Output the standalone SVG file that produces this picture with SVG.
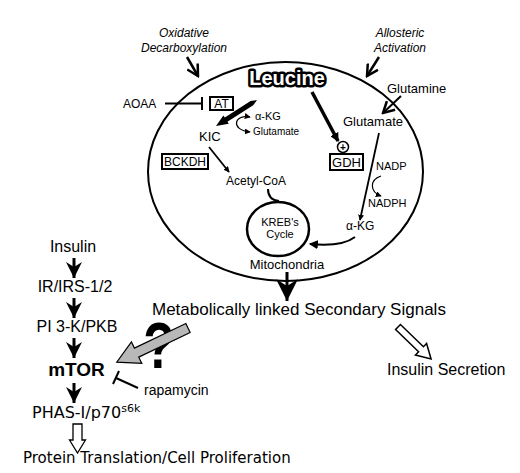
<svg xmlns="http://www.w3.org/2000/svg" width="520" height="473" viewBox="0 0 520 473">
<style>
text{font-family:"Liberation Sans",Arial,sans-serif;fill:#000}
.it{font-style:italic;font-size:12px}
.c{text-anchor:middle}
.dv{font-family:"DejaVu Sans",Verdana,sans-serif}
.ln{stroke:#000;fill:none}
.box{fill:#fff;stroke:#000;stroke-width:2}
</style>
<defs>
<marker id="vopen" viewBox="0 0 14 14" refX="12" refY="7" markerWidth="14" markerHeight="14" markerUnits="userSpaceOnUse" orient="auto"><path d="M1,1 L12,7 L1,13" fill="none" stroke="#000" stroke-width="2.5"/></marker>
<marker id="notch" viewBox="0 0 16 16" refX="16" refY="8" markerWidth="16" markerHeight="16" markerUnits="userSpaceOnUse" orient="auto"><path d="M0,0 L16,8 L0,16 L5,8 Z" fill="#000"/></marker>
<marker id="notchL" viewBox="0 0 16 16" refX="16" refY="8" markerWidth="22" markerHeight="22" markerUnits="userSpaceOnUse" orient="auto"><path d="M0,0 L16,8 L0,16 L5,8 Z" fill="#000"/></marker>
<marker id="sm" viewBox="0 0 8 8" refX="7" refY="4" markerWidth="6" markerHeight="6" markerUnits="userSpaceOnUse" orient="auto-start-reverse"><path d="M0,0 L8,4 L0,8 Z" fill="#000"/></marker>
<marker id="md" viewBox="0 0 8 8" refX="7" refY="4" markerWidth="9" markerHeight="9" markerUnits="userSpaceOnUse" orient="auto"><path d="M0,0 L8,4 L0,8 Z" fill="#000"/></marker>
</defs>
<rect width="520" height="473" fill="#fff"/>

<g id="mitochondria">
<ellipse cx="285.5" cy="171.5" rx="137.5" ry="109.5" fill="none" stroke="#000" stroke-width="2"/>
<text x="287" y="269" class="c" font-size="13">Mitochondria</text>
</g>

<g id="connectors">
<line x1="187" y1="57" x2="198" y2="76" class="ln" stroke-width="2.5" marker-end="url(#vopen)"/>
<line x1="379" y1="57" x2="367" y2="76" class="ln" stroke-width="2.5" marker-end="url(#vopen)"/>
<line x1="401" y1="96" x2="383" y2="113" class="ln" stroke-width="2" marker-end="url(#vopen)"/>
<line x1="165" y1="103.5" x2="202" y2="103.5" class="ln" stroke-width="2"/>
<line x1="202" y1="97" x2="202" y2="110" class="ln" stroke-width="2"/>
<polygon points="257,100 250.6,101.1 224.8,117.5 223.4,115.4 216,126 228.8,123.8 227.4,121.7 253.2,105.3" fill="#000"/>
<path d="M250,117 C234,114 230,130 250,132" class="ln" stroke-width="1.2" marker-start="url(#sm)" marker-end="url(#sm)"/>
<line x1="209" y1="147" x2="229" y2="172" class="ln" stroke-width="1.8" marker-end="url(#sm)"/>
<path d="M268,189 Q268,200 279,201" class="ln" stroke-width="2"/>
<line x1="312" y1="92" x2="338" y2="141" class="ln" stroke-width="3.5" marker-end="url(#md)"/>
<line x1="379" y1="133" x2="360" y2="220" class="ln" stroke-width="1.8" marker-end="url(#sm)"/>
<path d="M381,176 C369,180 370,192 381,196" class="ln" stroke-width="1.2" marker-end="url(#sm)"/>
<path d="M355,237 Q342,247 310,244" class="ln" stroke-width="2" marker-end="url(#md)"/>
<line x1="287" y1="272" x2="287" y2="301" class="ln" stroke-width="3" marker-end="url(#notchL)"/>
<line x1="74" y1="258" x2="74" y2="278" class="ln" stroke-width="3" marker-end="url(#notch)"/>
<line x1="74" y1="298" x2="74" y2="318" class="ln" stroke-width="3" marker-end="url(#notch)"/>
<line x1="74" y1="338" x2="74" y2="358" class="ln" stroke-width="3" marker-end="url(#notch)"/>
<line x1="74" y1="383" x2="74" y2="403" class="ln" stroke-width="3" marker-end="url(#notch)"/>
<line x1="138" y1="388" x2="116" y2="378" class="ln" stroke-width="2"/>
<line x1="113" y1="384" x2="119" y2="371" class="ln" stroke-width="2"/>
<polygon points="73,424 82,424 82,440 85.5,440 77.5,453 69.5,440 73,440" fill="#fff" stroke="#000" stroke-width="1.3"/>
<polygon transform="translate(398,327) rotate(44)" points="0,-3.5 32,-3.5 32,-8 46,0 32,8 32,3.5 0,3.5" fill="#fff" stroke="#000" stroke-width="1.5"/>
</g>

<g id="oxidative"><text x="184" y="37" class="it c">Oxidative</text><text x="184" y="52" class="it c">Decarboxylation</text></g>
<g id="allosteric"><text x="400" y="37" class="it c">Allosteric</text><text x="400" y="52" class="it c">Activation</text></g>

<g id="leucine">
<text x="287" y="85" class="c" font-size="20" font-weight="bold" stroke="#000" stroke-width="5" stroke-linejoin="round">Leucine</text>
<text x="287" y="85" class="c" font-size="20" font-weight="bold" style="fill:#fff">Leucine</text>
</g>

<g id="aoaa"><text x="123" y="108" font-size="12">AOAA</text></g>
<g id="at"><rect x="210" y="97" width="23" height="13" class="box"/><text x="221.5" y="108" class="c" font-size="12">AT</text></g>
<g id="akg1"><text x="255" y="120" font-size="11">α-KG</text></g>
<g id="glu1"><text x="253" y="135" font-size="10">Glutamate</text></g>
<g id="kic"><text x="199" y="141" font-size="13">KIC</text></g>
<g id="bckdh"><rect x="162" y="154" width="46" height="15" class="box"/><text x="185" y="166" class="c" font-size="12">BCKDH</text></g>
<g id="acetyl"><text x="256" y="185" class="c" font-size="12">Acetyl-CoA</text></g>
<g id="kreb">
<ellipse cx="278" cy="229" rx="31" ry="27" fill="none" stroke="#000" stroke-width="2.5"/>
<text x="280" y="226" class="c" font-size="11">KREB's</text>
<text x="280" y="238" class="c" font-size="11">Cycle</text>
</g>
<g id="glutamine"><text x="387" y="93" font-size="13">Glutamine</text></g>
<g id="glu2"><text x="343" y="126" font-size="13">Glutamate</text></g>
<g id="gdh">
<circle cx="343" cy="147" r="5.5" fill="#fff" stroke="#000" stroke-width="1.5"/>
<text x="343" y="151" class="c" font-size="10" font-weight="bold">+</text>
<rect x="330" y="154" width="33" height="16" class="box"/>
<text x="346.5" y="167" class="c" font-size="13">GDH</text>
</g>
<g id="nadp"><text x="376" y="170" font-size="11">NADP</text></g>
<g id="nadph"><text x="368" y="207" font-size="11">NADPH</text></g>
<g id="akg2"><text x="346" y="230" font-size="12">α-KG</text></g>

<g id="signals"><text x="152" y="315" font-size="17">Metabolically linked Secondary Signals</text></g>
<g id="secretion"><text x="387" y="375" font-size="16">Insulin Secretion</text></g>

<g id="insulin"><text x="73" y="252" class="c" font-size="16">Insulin</text></g>
<g id="irs"><text x="75" y="292" class="c" font-size="16">IR/IRS-1/2</text></g>
<g id="pi3k"><text x="77" y="332" class="c" font-size="16">PI 3-K/PKB</text></g>
<g id="question"><text x="0" y="0" class="c" font-size="64" font-weight="bold" transform="translate(159,368) scale(0.8,1)">?</text></g>
<g id="gray-arrow">
<polygon transform="translate(188,328) rotate(154.4)" points="0,-5 57,-5 57,-12 79,0 57,12 57,5 0,5" fill="#b8b8b8" stroke="#000" stroke-width="1.2"/>
</g>
<g id="mtor"><text x="76.5" y="376" class="c" font-size="19" font-weight="bold">mTOR</text></g>
<g id="rapamycin"><text x="144" y="395" font-size="14">rapamycin</text></g>
<g id="phas"><text x="32" y="418" class="dv" font-size="16">PHAS-I/p70<tspan font-size="11" dy="-6">s6k</tspan></text></g>
<g id="protein"><text x="23" y="463" class="dv" font-size="15">Protein Translation/Cell Proliferation</text></g>
</svg>
